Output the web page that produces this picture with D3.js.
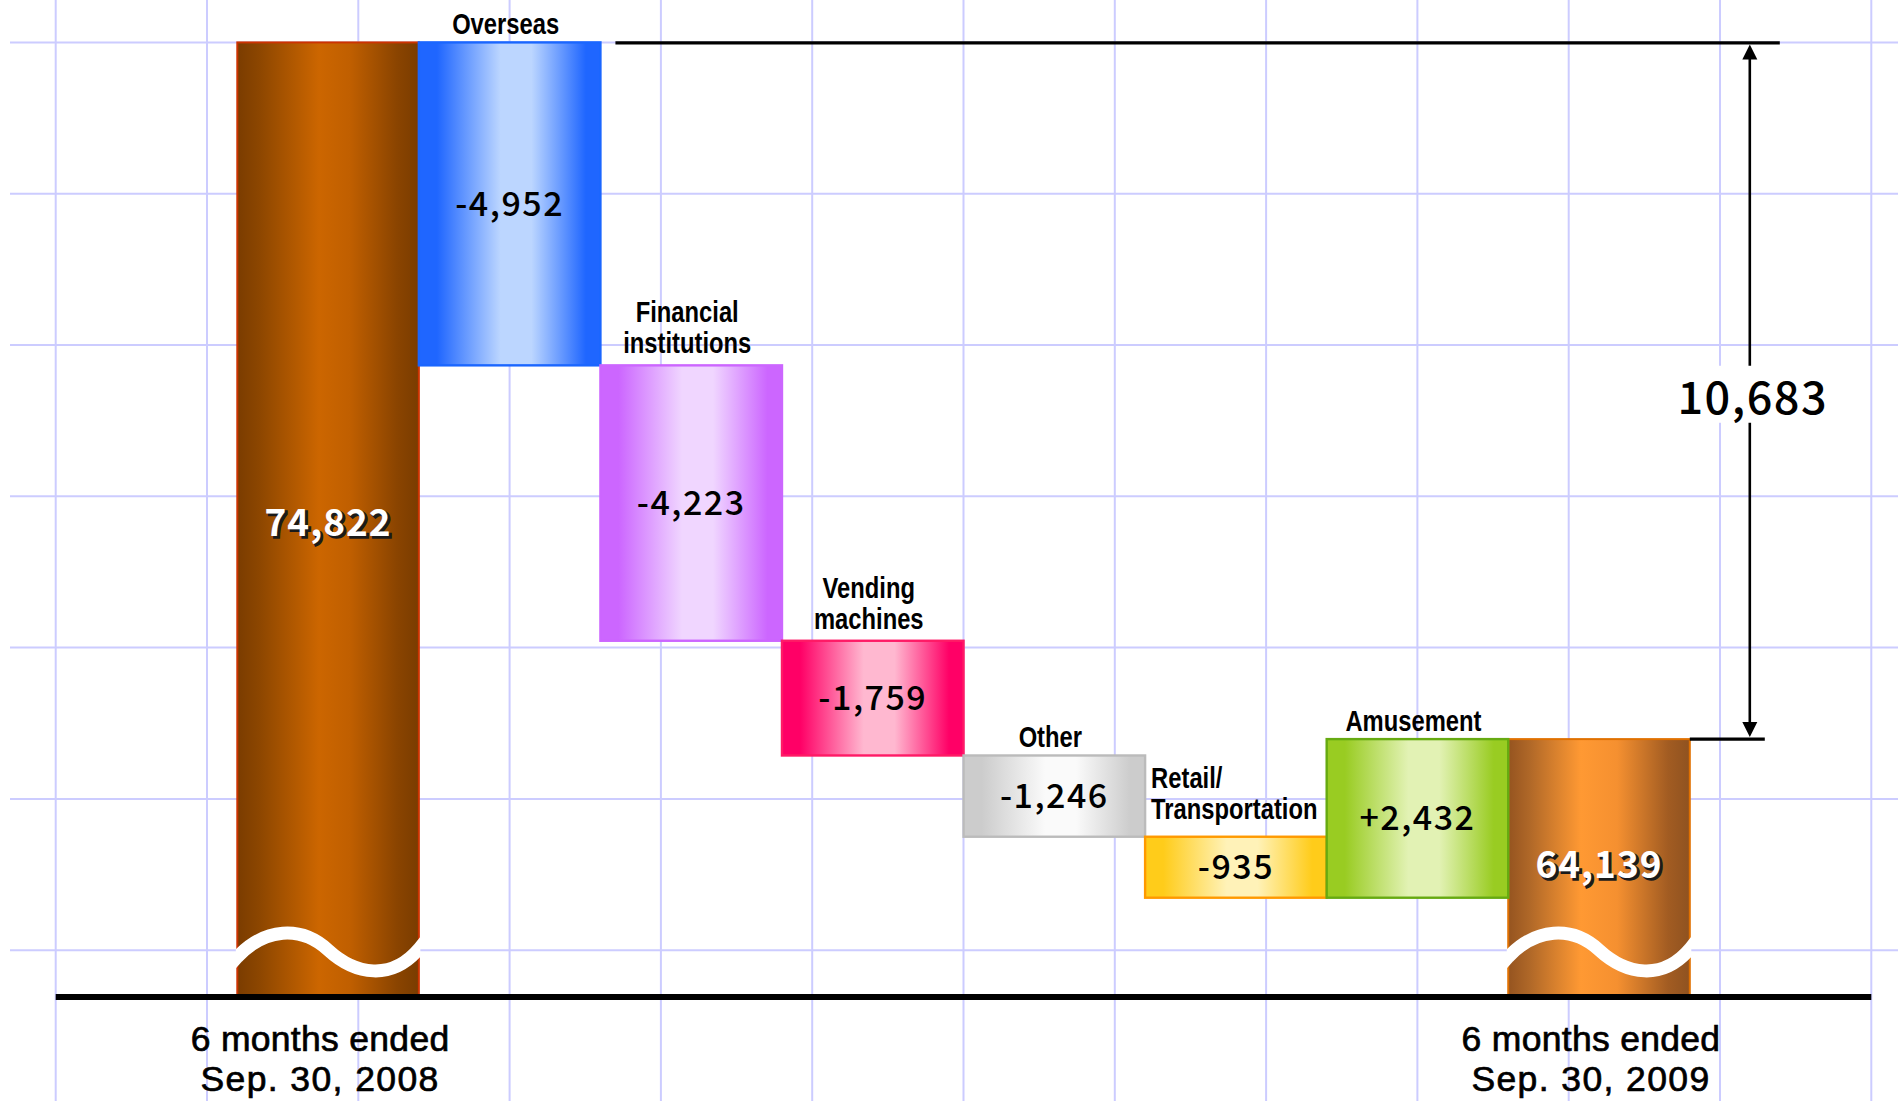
<!DOCTYPE html>
<html>
<head>
<meta charset="utf-8">
<script src="https://cdn.jsdelivr.net/npm/d3@7"></script>
<style>
  html, body { margin: 0; padding: 0; background: #ffffff; }
  svg { display: block; }
</style>
</head>
<body>
<svg id="chart" width="1898" height="1101"></svg>
<script>
// Net sales bridge: first-half FY2008 -> first-half FY2009 (millions of yen)
const startTotal = 74822;
const endTotal = 64139;
const periodLabels = [["6 months ended", "Sep. 30, 2008"], ["6 months ended", "Sep. 30, 2009"]];
const segments = ["Overseas", "Financial institutions", "Vending machines", "Other", "Retail/Transportation", "Amusement"];
const segmentLines = [["Overseas"], ["Financial", "institutions"], ["Vending", "machines"], ["Other"], ["Retail/", "Transportation"], ["Amusement"]];
const changes = [-4952, -4223, -1759, -1246, -935, 2432];
const netChange = 10683;

const segmentFills = [
  { edge: "#1f66ff", mid: "#bcd6ff", stroke: "#1a66ff" },
  { edge: "#cc66ff", mid: "#f0d6ff", stroke: "#cc66ff" },
  { edge: "#ff0066", mid: "#ffb8d0", stroke: "#ff1a66" },
  { edge: "#cccccc", mid: "#fafafa", stroke: "#bbbbbb" },
  { edge: "#ffcc1a", mid: "#fff2b8", stroke: "#ff9900" },
  { edge: "#99cc22", mid: "#e2f2b4", stroke: "#66aa11" }
];

const W = 1898, H = 1101;
const baseY = 996;
const svg = d3.select("#chart");
const defs = svg.append("defs");

const CAT_FONT = "'Liberation Sans', Arial, sans-serif";
const CAT_SQUEEZE = 0.82;          // narrow bold look for the segment names
const NUM_FONT = "'Noto Sans CJK JP', 'Noto Sans', sans-serif";
const PERIOD_FONT = "'Liberation Sans', Arial, sans-serif";

// ---- scales ----
const columns = ["start", ...segments, "end"];
const x = d3.scaleBand().domain(columns).range([237.3, 1689.8]).padding(0);
const y = d3.scaleLinear().domain([60200, startTotal]).range([baseY, 42.4]);
const gridX = d3.scaleLinear().domain([0, 12]).range([55.7, 1871.3]);
const gridY = d3.scaleLinear().domain([0, 6]).range([42.4, 950.2]);

// ---- background grid ----
const grid = svg.append("g").attr("stroke", "#ccccff").attr("stroke-width", 2);
grid.selectAll("line.v").data(d3.range(13)).join("line")
  .attr("x1", d => gridX(d)).attr("x2", d => gridX(d))
  .attr("y1", 0).attr("y2", H);
grid.selectAll("line.h").data(d3.range(7)).join("line")
  .attr("x1", 10).attr("x2", W)
  .attr("y1", d => gridY(d)).attr("y2", d => gridY(d));

// ---- gradients ----
function hGrad(id, stops) {
  const g = defs.append("linearGradient").attr("id", id)
    .attr("x1", "0%").attr("x2", "100%").attr("y1", "0%").attr("y2", "0%");
  stops.forEach(([o, c]) => g.append("stop").attr("offset", o).attr("stop-color", c));
}
hGrad("g-start", [[0, "#7a3c00"], [0.12, "#8c4600"], [0.45, "#cc6600"], [0.62, "#c05f00"], [0.88, "#8a4400"], [1, "#7a3c00"]]);
hGrad("g-end", [[0, "#955420"], [0.12, "#b06828"], [0.4, "#ff9933"], [0.6, "#f59030"], [0.88, "#a25c22"], [1, "#8f5220"]]);
segmentFills.forEach((f, i) => {
  hGrad("g-seg" + i, [[0, f.edge], [0.1, f.edge], [0.45, f.mid], [0.62, f.mid], [0.92, f.edge], [1, f.edge]]);
});

// ---- waterfall steps ----
let running = startTotal;
const steps = changes.map((c, i) => {
  const from = running;
  running += c;
  return { key: segments[i], lines: segmentLines[i], change: c, lo: Math.min(from, running), hi: Math.max(from, running), i };
});

const bars = svg.append("g");

// total bars
const totals = [
  { key: "start", value: startTotal, fill: "url(#g-start)", stroke: "#cc3300", lines: periodLabels[0] },
  { key: "end", value: endTotal, fill: "url(#g-end)", stroke: "#e07000", lines: periodLabels[1] }
];
bars.selectAll("rect.total").data(totals).join("rect")
  .attr("x", d => x(d.key)).attr("width", x.bandwidth())
  .attr("y", d => y(d.value)).attr("height", d => baseY - y(d.value))
  .attr("fill", d => d.fill).attr("stroke", d => d.stroke).attr("stroke-width", 2);

// change bars
bars.selectAll("rect.step").data(steps).join("rect")
  .attr("x", d => x(d.key)).attr("width", x.bandwidth())
  .attr("y", d => y(d.hi)).attr("height", d => y(d.lo) - y(d.hi))
  .attr("fill", d => "url(#g-seg" + d.i + ")")
  .attr("stroke", d => segmentFills[d.i].stroke).attr("stroke-width", 2.4);

// axis-break waves across the total bars
totals.forEach((d, k) => {
  const L = x(d.key), w = x.bandwidth(), R = L + w;
  const yc = baseY - 44;
  defs.append("clipPath").attr("id", "clip-wave" + k)
    .append("rect").attr("x", L - 1.5).attr("y", 0).attr("width", w + 3).attr("height", H);
  const p = d3.path();
  p.moveTo(L - 8, yc + 14);
  p.lineTo(L, yc + 5);
  p.bezierCurveTo(L + 0.15 * w, yc - 24, L + 0.35 * w, yc - 27, L + 0.5 * w, yc - 2);
  p.bezierCurveTo(L + 0.65 * w, yc + 23, L + 0.85 * w, yc + 29, R, yc - 3);
  p.lineTo(R + 8, yc - 13);
  svg.append("path").attr("d", p.toString())
    .attr("clip-path", "url(#clip-wave" + k + ")")
    .attr("fill", "none").attr("stroke", "#ffffff").attr("stroke-width", 13);
});

// baseline
svg.append("line")
  .attr("x1", gridX(0)).attr("x2", gridX(12))
  .attr("y1", baseY + 1).attr("y2", baseY + 1)
  .attr("stroke", "#000").attr("stroke-width", 6);

// ---- value labels ----
const fmt = d3.format(",");
const signed = v => (v < 0 ? "-" : "+") + fmt(Math.abs(v));

svg.append("g").selectAll("text").data(steps).join("text")
  .attr("x", d => x(d.key) + x.bandwidth() / 2)
  .attr("y", d => (y(d.hi) + y(d.lo)) / 2 + 12)
  .attr("text-anchor", "middle")
  .attr("font-family", NUM_FONT).attr("font-size", 34).attr("font-weight", 500)
  .attr("letter-spacing", 1.5)
  .attr("fill", "#000")
  .text(d => signed(d.change));

// white totals with a dark drop shadow
const totalLabels = svg.append("g").selectAll("g").data(totals).join("g")
  .attr("transform", (d, k) => `translate(${x(d.key) + x.bandwidth() / 2},${(y(d.value) + baseY) / 2 + (k === 0 ? 17 : 10)})`);
totalLabels.append("text")
  .attr("x", 2.2).attr("y", 2.2)
  .attr("text-anchor", "middle")
  .attr("font-family", NUM_FONT).attr("font-size", 37).attr("font-weight", 700)
  .attr("letter-spacing", 1)
  .attr("fill", "#1a1a1a").attr("stroke", "#1a1a1a").attr("stroke-width", 1.5)
  .text(d => fmt(d.value));
totalLabels.append("text")
  .attr("text-anchor", "middle")
  .attr("font-family", NUM_FONT).attr("font-size", 37).attr("font-weight", 700)
  .attr("letter-spacing", 1)
  .attr("fill", "#ffffff")
  .text(d => fmt(d.value));

// ---- segment names (bold, horizontally condensed) ----
const lineH = 31;
svg.append("g").selectAll("text").data(steps).join("text")
  .attr("font-family", CAT_FONT).attr("font-size", 29).attr("font-weight", 700)
  .attr("fill", "#000")
  .attr("text-anchor", d => d.key === "Retail/Transportation" ? "start" : "middle")
  .attr("transform", d => {
    const ax = d.key === "Retail/Transportation" ? x(d.key) + 6 : x(d.key) + x.bandwidth() / 2 - 4;
    return `translate(${ax},0) scale(${CAT_SQUEEZE},1)`;
  })
  .each(function (d) {
    const n = d.lines.length;
    const top = y(d.hi);
    const gap = d.key === "Retail/Transportation" ? 18 : (n > 1 ? 12 : 8);
    d3.select(this).selectAll("tspan").data(d.lines).join("tspan")
      .attr("x", 0)
      .attr("y", (t, j) => top - gap - (n - 1 - j) * lineH)
      .text(t => t);
  });

// ---- period labels under the baseline ----
svg.append("g").selectAll("text").data(totals).join("text")
  .attr("font-family", PERIOD_FONT).attr("font-size", 35.5)
  .attr("text-anchor", "middle").attr("fill", "#000")
  .attr("stroke", "#000").attr("stroke-width", 0.7)
  .each(function (d) {
    const cx = x(d.key) + x.bandwidth() / 2 - 8;
    d3.select(this).selectAll("tspan").data(d.lines).join("tspan")
      .attr("x", cx).attr("y", (t, j) => baseY + 55 + j * 40)
      .attr("letter-spacing", (t, j) => j === 1 ? 1.4 : 0.3)
      .text(t => t);
  });

// ---- net change dimension ----
const yTop = y(startTotal), yBot = y(endTotal);
const xDim = x("end") + x.bandwidth() + 60;
const dim = svg.append("g").attr("stroke", "#000");
dim.append("line").attr("x1", x("Overseas") + x.bandwidth() + 15).attr("x2", xDim + 30)
  .attr("y1", yTop + 0.5).attr("y2", yTop + 0.5).attr("stroke-width", 3.3);
dim.append("line").attr("x1", x("end") + x.bandwidth()).attr("x2", xDim + 15)
  .attr("y1", yBot).attr("y2", yBot).attr("stroke-width", 3.3);
dim.append("line").attr("x1", xDim).attr("x2", xDim)
  .attr("y1", yTop + 12).attr("y2", yBot - 12).attr("stroke-width", 2.6);
svg.append("path").attr("fill", "#000")
  .attr("d", `M${xDim},${yTop + 2}L${xDim - 7.5},${yTop + 17}L${xDim + 7.5},${yTop + 17}Z`);
svg.append("path").attr("fill", "#000")
  .attr("d", `M${xDim},${yBot - 2}L${xDim - 7.5},${yBot - 17}L${xDim + 7.5},${yBot - 17}Z`);

const labelCy = (yTop + yBot) / 2 + 7;
svg.append("rect").attr("x", xDim - 68).attr("y", labelCy - 32)
  .attr("width", 140).attr("height", 57).attr("fill", "#ffffff");
svg.append("text")
  .attr("x", xDim + 3).attr("y", labelCy + 16)
  .attr("text-anchor", "middle")
  .attr("font-family", NUM_FONT).attr("font-size", 45).attr("font-weight", 500)
  .attr("letter-spacing", 1.5)
  .attr("fill", "#000")
  .text(fmt(netChange));
</script>
</body>
</html>
